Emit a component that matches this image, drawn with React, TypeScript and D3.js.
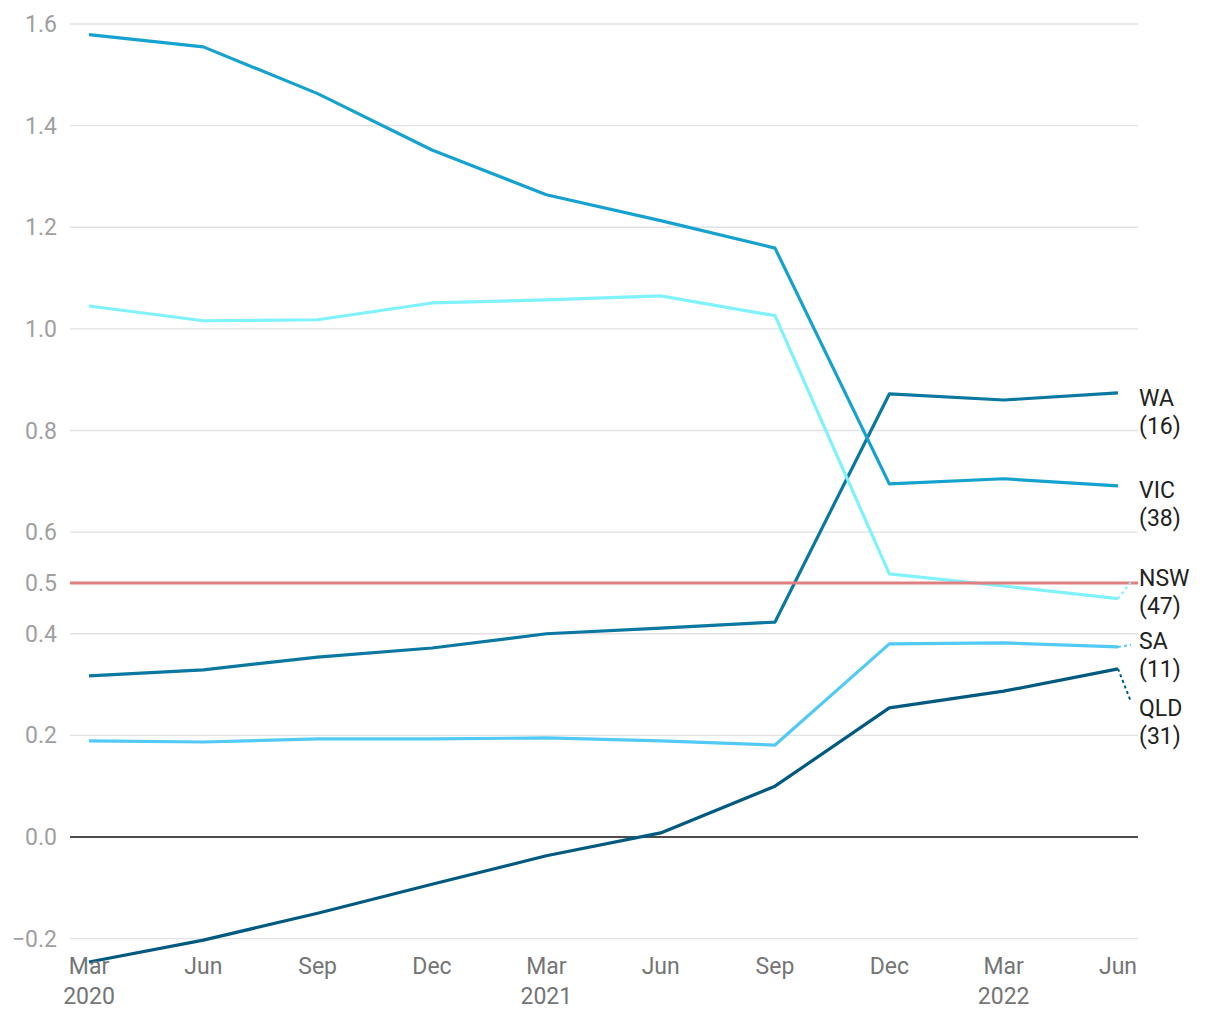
import React from 'react';
import * as d3 from 'd3';

const quarters = ['Mar 2020', 'Jun 2020', 'Sep 2020', 'Dec 2020', 'Mar 2021', 'Jun 2021', 'Sep 2021', 'Dec 2021', 'Mar 2022', 'Jun 2022'];
const tickMonth = ['Mar', 'Jun', 'Sep', 'Dec', 'Mar', 'Jun', 'Sep', 'Dec', 'Mar', 'Jun'];
const tickYear = ['2020', '', '', '', '2021', '', '', '', '2022', ''];

const vic = [1.579, 1.555, 1.463, 1.352, 1.264, 1.213, 1.159, 0.695, 0.705, 0.691];
const nsw = [1.045, 1.016, 1.018, 1.051, 1.057, 1.065, 1.026, 0.518, 0.494, 0.469];
const wa = [0.317, 0.329, 0.354, 0.372, 0.400, 0.411, 0.423, 0.872, 0.860, 0.874];
const sa = [0.189, 0.187, 0.193, 0.193, 0.195, 0.189, 0.181, 0.380, 0.382, 0.374];
const qld = [-0.246, -0.203, -0.150, -0.093, -0.037, 0.008, 0.100, 0.254, 0.287, 0.331];

const yTicks = [-0.2, 0, 0.2, 0.4, 0.5, 0.6, 0.8, 1.0, 1.2, 1.4, 1.6];

// label placement in data units (label first-line centre)
const series = [
  { name: 'WA', count: 16, values: wa, color: '#0a78a0', labelY: 0.864, leader: false },
  { name: 'VIC', count: 38, values: vic, color: '#15a2cf', labelY: 0.683, leader: false },
  { name: 'NSW', count: 47, values: nsw, color: '#7ff2fc', labelY: 0.510, leader: true },
  { name: 'SA', count: 11, values: sa, color: '#53c9f5', labelY: 0.386, leader: true },
  { name: 'QLD', count: 31, values: qld, color: '#005a80', labelY: 0.254, leader: true },
];

const W = 1220;
const H = 1020;
const FONT = 'Roboto, "Noto Sans", sans-serif';
const FS = 23;

export default function App() {
  const x = d3.scalePoint<string>().domain(quarters).range([89, 1118]);
  const y = d3.scaleLinear().domain([0, 1.6]).range([837, 24]);
  const gridL = 70;
  const gridR = 1138;

  const line = d3.line<number>()
    .x((_, i) => x(quarters[i])!)
    .y(d => y(d));

  return (
    <svg width={W} height={H} style={{ position: 'absolute', left: 0, top: 0, fontFamily: FONT }}>
      {/* grid + y ticks */}
      {yTicks.map(t => {
        const isZero = t === 0;
        const isRef = t === 0.5;
        return (
          <g key={t}>
            {!isRef && (
              <line x1={gridL} x2={gridR} y1={y(t)} y2={y(t)}
                stroke={isZero ? '#111' : '#e2e2e2'} strokeWidth={isZero ? 1.6 : 1.4} />
            )}
            <text x={57} y={y(t)} dy="0.35em" textAnchor="end" fontSize={FS} fill="#a0a0a0">
              {t < 0 ? '\u2212' + Math.abs(t).toFixed(1) : t.toFixed(1)}
            </text>
          </g>
        );
      })}

      {/* series lines */}
      {series.map(s => (
        <path key={s.name} d={line(s.values)!} fill="none" stroke={s.color} strokeWidth={3.2} strokeLinejoin="round" />
      ))}

      {/* 0.5 reference */}
      <line x1={gridL} x2={gridR} y1={y(0.5)} y2={y(0.5)} stroke="#e07f7f" strokeWidth={3} />

      {/* right labels */}
      {series.map(s => {
        const last = s.values[s.values.length - 1];
        const ex = x(quarters[quarters.length - 1])!;
        const ly = y(s.labelY);
        return (
          <g key={s.name}>
            {s.leader && (
              <line x1={ex} y1={y(last)} x2={1131} y2={ly + (ly > y(last) ? -6 : 4)}
                stroke={s.color} strokeWidth={2} strokeDasharray="3,3" />
            )}
            <text x={1139} y={ly} dy="0.35em" fontSize={FS} fill="#222">{s.name}</text>
            <text x={1139} y={ly + 28} dy="0.35em" fontSize={FS} fill="#222">({s.count})</text>
          </g>
        );
      })}

      {/* x ticks */}
      {quarters.map((q, i) => (
        <g key={q}>
          <text x={x(q)!} y={966} dy="0.35em" textAnchor="middle" fontSize={FS} fill="#757575">{tickMonth[i]}</text>
          {tickYear[i] && (
            <text x={x(q)!} y={996} dy="0.35em" textAnchor="middle" fontSize={FS} fill="#757575">{tickYear[i]}</text>
          )}
        </g>
      ))}
    </svg>
  );
}
